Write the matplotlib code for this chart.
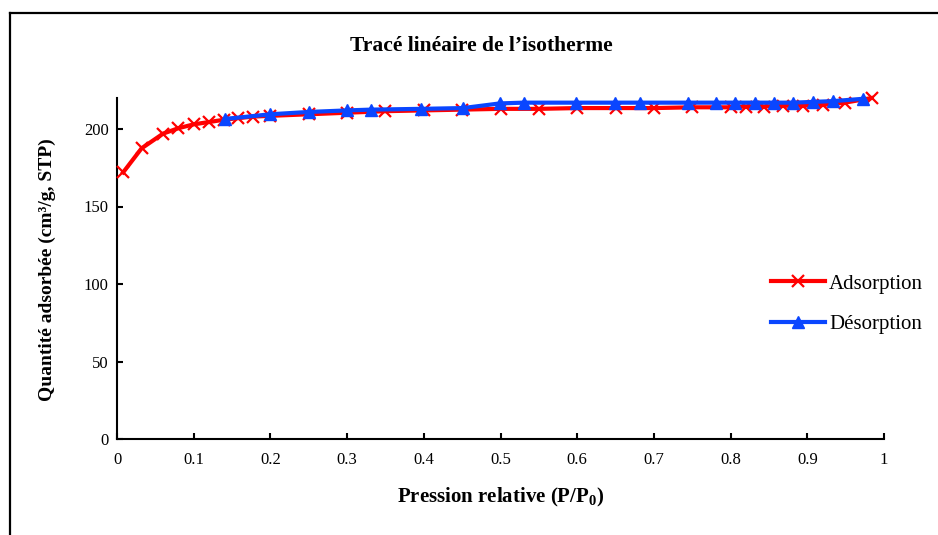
import matplotlib
matplotlib.use('Agg')
import matplotlib.pyplot as plt
from matplotlib.lines import Line2D

plt.rcParams['font.family'] = ['Liberation Serif', 'DejaVu Serif']
plt.rcParams['mathtext.fontset'] = 'custom'
plt.rcParams['mathtext.rm'] = 'Liberation Serif:bold'
plt.rcParams['mathtext.bf'] = 'Liberation Serif:bold'

# adsorption branch
p_ads = [0.008, 0.032, 0.06, 0.08, 0.10, 0.12, 0.14, 0.158, 0.177, 0.20,
         0.25, 0.30, 0.35, 0.40, 0.45, 0.50, 0.55, 0.60, 0.65, 0.70,
         0.75, 0.80, 0.82, 0.843, 0.868, 0.894, 0.92, 0.949, 0.984]
q_ads = [172, 187.5, 197, 200.5, 203, 204.5, 206, 207, 208, 208.5,
         209.5, 210.5, 211.5, 212, 212.5, 213, 213, 213.5, 213.5, 213.5,
         214, 214, 214.5, 214.5, 215, 215, 215.5, 217, 220]

# desorption branch
p_des = [0.141, 0.20, 0.25, 0.30, 0.331, 0.397, 0.451, 0.499, 0.53, 0.599,
         0.649, 0.682, 0.745, 0.781, 0.806, 0.832, 0.857, 0.882, 0.908,
         0.934, 0.973]
q_des = [206.5, 209.5, 211, 212, 212.5, 213, 213.5, 216.5, 217, 217,
         217, 217, 217, 217, 217, 217, 217, 217, 217.5, 218, 219.5]

x_ticks = [0, 0.1, 0.2, 0.3, 0.4, 0.5, 0.6, 0.7, 0.8, 0.9, 1]
x_labels = ['0', '0.1', '0.2', '0.3', '0.4', '0.5', '0.6', '0.7', '0.8', '0.9', '1']
y_ticks = [0, 50, 100, 150, 200]

fig = plt.figure(figsize=(9.38, 5.35), dpi=100)
ax = fig.add_axes([117/938, 1-439/535, (884-117)/938, (439-98)/535])

ax.plot(p_ads, q_ads, color='#ff0000', lw=3, marker='x', ms=9, mew=1.6,
        label='Adsorption', zorder=3, clip_on=False)
ax.plot(p_des, q_des, color='#0a46ff', lw=3, marker='^', ms=9,
        label='Désorption', zorder=4, clip_on=False)

ax.set_xlim(0, 1)
ax.set_ylim(0, 220)
ax.set_xticks(x_ticks)
ax.set_xticklabels(x_labels)
ax.set_yticks(y_ticks)
ax.spines['top'].set_visible(False)
ax.spines['right'].set_visible(False)
for s in ('left', 'bottom'):
    ax.spines[s].set_linewidth(1.5)
ax.tick_params(direction='in', length=4, width=1.5, labelsize=12)
ax.tick_params(axis='x', pad=9)
ax.tick_params(axis='y', pad=6)

fig.text(481/938, 1-46/535, 'Tracé linéaire de l\u2019isotherme', ha='center', va='center',
         fontsize=15.5, fontweight='bold')
fig.text(501/938, 1-497/535, 'Pression relative (P/P$_\\mathbf{0}$)', ha='center', va='center',
         fontsize=15, fontweight='bold')
fig.text(47/938, 1-270/535, 'Quantité adsorbée (cm³/g, STP)', ha='center', va='center',
         rotation=90, fontsize=14, fontweight='bold')

ax.legend(loc='center left', bbox_to_anchor=(752/938, 1-304/535), bbox_transform=fig.transFigure,
          frameon=False, fontsize=15, handlelength=2.6, handletextpad=0.2, labelspacing=1.0)

# outer frame (only top and left edges fall inside the canvas)
fx, fy = 10/938, 1-13/535
fig.add_artist(Line2D([fx, fx], [0, fy], color='black', lw=1.6, transform=fig.transFigure))
fig.add_artist(Line2D([fx, 1], [fy, fy], color='black', lw=1.6, transform=fig.transFigure))

fig.savefig('out.png', dpi=100)
